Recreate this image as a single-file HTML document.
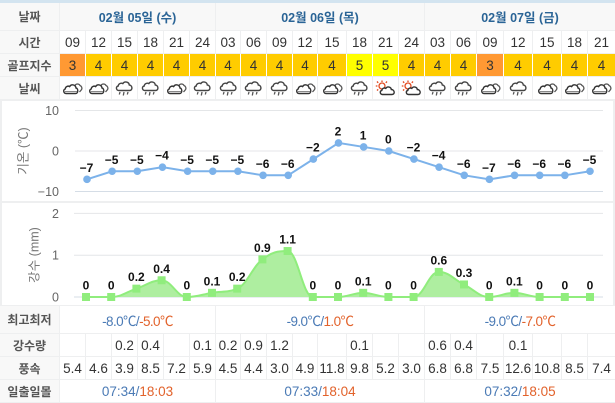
<!DOCTYPE html>
<html lang="ko">
<head>
<meta charset="utf-8">
<title>골프 날씨 예보</title>
<style>
html,body{margin:0;padding:0}
body{width:615px;height:403px;position:relative;overflow:hidden;background:#eeeff0;font-family:"Liberation Sans","Noto Sans CJK KR",sans-serif;color:#333}
.band{position:absolute;left:0;top:0;width:615px;height:3px;background:#d3e4f0}
.grid{position:absolute;left:0;width:615px;display:grid;column-gap:1px;row-gap:1px;background:#eeeff0;
grid-template-columns:59px 25px 25px 25px 25px 25px 25px 24px 25px 25px 24px 28px 25px 25px 25px 25px 25px 26px 28px 28px 25px 27px}
.grid>div{background:#fff;display:flex;align-items:center;justify-content:center;font-size:13.5px;white-space:nowrap;overflow:hidden}
.grid>.h{background:#f8f8f8;font-weight:bold;color:#555;font-size:12px}
.grid>.d{background:#f8f8f8;font-weight:bold;color:#2a6496;font-size:12.5px}
.grid>.g4{background:#ffcc00;box-shadow:1px 0 0 #fff}
.grid>.g3{background:#ff9933;box-shadow:1px 0 0 #fff}
.grid>.g5{background:#ffff00;box-shadow:1px 0 0 #fff}
.s6{grid-column:span 6}.s7{grid-column:span 7}.s8{grid-column:span 8}
.lo{color:#4a7ab5}.hi{color:#e2622b}
.mm{letter-spacing:-.6px}
#top{top:3px;grid-template-rows:27px 22px 22px 22px}
#bottom{top:306px;grid-template-rows:27px 22px 22px 22px}
.panel{position:absolute;left:2px;width:611px;background:#fff}
svg.chart{position:absolute;left:0;top:0}
svg.wx{width:21px;height:16px;display:block}
</style>
</head>
<body>
<svg width="0" height="0" style="position:absolute" aria-hidden="true">
<defs>
<symbol id="i-c" viewBox="0 0 21 16">
<path d="M13 5.500C14 3.500 17 3.600 18 5.500C19.600 6 20.400 8.200 19.600 9.500L17.500 12" fill="none" stroke="#555" stroke-width="1.300"/>
<path d="M4 13.500C1.500 13.500 .8 9.800 3.200 9C3.400 6.600 6 5.500 7.600 6.600C9.200 3.700 13.600 4.600 14 8C16.300 8.300 16.600 13.500 13.500 13.500Z" fill="#fff" stroke="#333" stroke-width="1.400"/>
<path d="M2 11.500H15" stroke="#888" stroke-width="1"/>
</symbol>
<symbol id="i-r" viewBox="0 0 21 16">
<path d="M5 10.500C2 10.500 1.500 6.500 4.200 6C4.400 3.500 7.400 2.600 8.800 3.600C10.500 .8 15 1.800 15.300 5C18.500 5.200 19 10.500 15.500 10.500Z" fill="#fff" stroke="#444" stroke-width="1.400"/>
<path d="M6 12L5.300 14.500M10 12L9.300 15.500M14 12L13.300 14.500" stroke="#555" stroke-width="1.300" fill="none"/>
</symbol>
<symbol id="i-s" viewBox="0 0 21 16">
<circle cx="7" cy="6" r="3" fill="#fff" stroke="#e2491f" stroke-width="1.300"/>
<path d="M7 .5V2M2 1.500L3.200 2.800M.8 6H2.400M12 1.500L10.800 2.800M2 10.500L3.200 9.400" stroke="#e2491f" stroke-width="1.300" fill="none"/>
<path d="M7.500 14.500C5 14.500 4.500 11 6.800 10.400C7 8.300 9.500 7.500 10.800 8.400C12.200 6 16 6.800 16.300 9.500C19.800 9.700 20.300 14.500 16.800 14.500Z" fill="#fff" stroke="#333" stroke-width="1.400"/>
</symbol>
</defs>
</svg>

<div class="band"></div>

<div class="grid" id="top">
<div class="h">날짜</div>
<div class="d s6">02월 05일 (수)</div>
<div class="d s8">02월 06일 (목)</div>
<div class="d s7">02월 07일 (금)</div>

<div class="h">시간</div>
<div>09</div><div>12</div><div>15</div><div>18</div><div>21</div><div>24</div>
<div>03</div><div>06</div><div>09</div><div>12</div><div>15</div><div>18</div><div>21</div><div>24</div>
<div>03</div><div>06</div><div>09</div><div>12</div><div>15</div><div>18</div><div>21</div>

<div class="h">골프지수</div>
<div class="g3">3</div><div class="g4">4</div><div class="g4">4</div><div class="g4">4</div><div class="g4">4</div><div class="g4">4</div>
<div class="g4">4</div><div class="g4">4</div><div class="g4">4</div><div class="g4">4</div><div class="g4">4</div><div class="g5">5</div><div class="g5">5</div><div class="g4">4</div>
<div class="g4">4</div><div class="g4">4</div><div class="g3">3</div><div class="g4">4</div><div class="g4">4</div><div class="g4">4</div><div class="g4">4</div>

<div class="h">날씨</div>
<div><svg class="wx"><use href="#i-c"/></svg></div>
<div><svg class="wx"><use href="#i-c"/></svg></div>
<div><svg class="wx"><use href="#i-r"/></svg></div>
<div><svg class="wx"><use href="#i-r"/></svg></div>
<div><svg class="wx"><use href="#i-c"/></svg></div>
<div><svg class="wx"><use href="#i-r"/></svg></div>
<div><svg class="wx"><use href="#i-r"/></svg></div>
<div><svg class="wx"><use href="#i-r"/></svg></div>
<div><svg class="wx"><use href="#i-r"/></svg></div>
<div><svg class="wx"><use href="#i-c"/></svg></div>
<div><svg class="wx"><use href="#i-c"/></svg></div>
<div><svg class="wx"><use href="#i-r"/></svg></div>
<div><svg class="wx"><use href="#i-s"/></svg></div>
<div><svg class="wx"><use href="#i-s"/></svg></div>
<div><svg class="wx"><use href="#i-r"/></svg></div>
<div><svg class="wx"><use href="#i-r"/></svg></div>
<div><svg class="wx"><use href="#i-c"/></svg></div>
<div><svg class="wx"><use href="#i-r"/></svg></div>
<div><svg class="wx"><use href="#i-c"/></svg></div>
<div><svg class="wx"><use href="#i-c"/></svg></div>
<div><svg class="wx"><use href="#i-c"/></svg></div>
</div>

<div class="panel" style="top:101px;height:100px"></div>
<div class="panel" style="top:203px;height:102px"></div>

<svg class="chart" id="chart" width="615" height="403"></svg>

<div class="grid" id="bottom">
<div class="h">최고최저</div>
<div class="s6 mm"><span class="lo">-8.0℃/</span><span class="hi">-5.0℃</span></div>
<div class="s8 mm"><span class="lo">-9.0℃/</span><span class="hi">1.0℃</span></div>
<div class="s7 mm"><span class="lo">-9.0℃/</span><span class="hi">-7.0℃</span></div>

<div class="h">강수량</div>
<div></div><div></div><div>0.2</div><div>0.4</div><div></div><div>0.1</div>
<div>0.2</div><div>0.9</div><div>1.2</div><div></div><div></div><div>0.1</div><div></div><div></div>
<div>0.6</div><div>0.4</div><div></div><div>0.1</div><div></div><div></div><div></div>

<div class="h">풍속</div>
<div>5.4</div><div>4.6</div><div>3.9</div><div>8.5</div><div>7.2</div><div>5.9</div>
<div>4.5</div><div>4.4</div><div>3.0</div><div>4.9</div><div>11.8</div><div>9.8</div><div>5.2</div><div>3.0</div>
<div>6.8</div><div>6.8</div><div>7.5</div><div>12.6</div><div>10.8</div><div>8.5</div><div>7.4</div>

<div class="h">일출일몰</div>
<div class="s6"><span class="lo">07:34/</span><span class="hi">18:03</span></div>
<div class="s8"><span class="lo">07:33/</span><span class="hi">18:04</span></div>
<div class="s7"><span class="lo">07:32/</span><span class="hi">18:05</span></div>
</div>

<script>
const temperatures = [-7,-5,-5,-4,-5,-5,-5,-6,-6,-2,2,1,0,-2,-4,-6,-7,-6,-6,-6,-5];
const precipitation = [0,0,0.2,0.4,0,0.1,0.2,0.9,1.1,0,0,0.1,0,0,0.6,0.3,0,0.1,0,0,0];
const temperatureTicks = [10,0,-10];
const precipitationTicks = [2,1,0];

const NS = 'http://www.w3.org/2000/svg';
const svg = document.getElementById('chart');

function make(tag, attrs, text) {
  const el = document.createElementNS(NS, tag);
  for (const k in attrs) el.setAttribute(k, attrs[k]);
  if (text !== undefined) el.textContent = text;
  svg.appendChild(el);
  return el;
}
function fmt(v) { return String(v).replace('-', '\u2212'); }

const xTemp = i => 87 + 25.15 * i;
const yTemp = v => 151 - 4.05 * v;
const xRain = i => 86 + 25.2 * i;
const yRain = v => 297 - 41.8 * v;

function splinePath(pts) {
  const s = 1.5, den = 2.5;
  const ctrl = pts.map((p, i) => {
    if (i === 0 || i === pts.length - 1) return {lx: p[0], ly: p[1], rx: p[0], ry: p[1]};
    const a = pts[i - 1], b = pts[i + 1];
    const lx = (s * p[0] + a[0]) / den, rx = (s * p[0] + b[0]) / den;
    let ly = (s * p[1] + a[1]) / den, ry = (s * p[1] + b[1]) / den;
    const c = ((ry - ly) * (rx - p[0])) / (rx - lx) + p[1] - ry;
    ly += c; ry += c;
    if (ly > a[1] && ly > p[1]) { ly = Math.max(a[1], p[1]); ry = 2 * p[1] - ly; }
    else if (ly < a[1] && ly < p[1]) { ly = Math.min(a[1], p[1]); ry = 2 * p[1] - ly; }
    if (ry > b[1] && ry > p[1]) { ry = Math.max(b[1], p[1]); ly = 2 * p[1] - ry; }
    else if (ry < b[1] && ry < p[1]) { ry = Math.min(b[1], p[1]); ly = 2 * p[1] - ry; }
    return {lx, ly, rx, ry};
  });
  let d = 'M' + pts[0][0] + ' ' + pts[0][1];
  for (let i = 1; i < pts.length; i++) {
    d += ' C' + ctrl[i - 1].rx + ' ' + ctrl[i - 1].ry + ' ' + ctrl[i].lx + ' ' + ctrl[i].ly + ' ' + pts[i][0] + ' ' + pts[i][1];
  }
  return d;
}

/* temperature chart */
temperatureTicks.forEach(t => {
  const g = make('line', {x1: 75, x2: 603, y1: yTemp(t), y2: yTemp(t), stroke: t === -10 ? '#d5dde6' : '#e4e6e8', 'stroke-width': 1});
  
  
  const l = make('text', {x: 59, y: yTemp(t) + 4.5, 'text-anchor': 'end', 'font-size': 12.5, fill: '#666'}, fmt(t));
  
  
});
const tTitle = make('text', {x: 24, y: 151, transform: 'rotate(-90 24 151)', 'text-anchor': 'middle', 'dominant-baseline': 'middle', 'font-size': 12.5, fill: '#777'}, '기온 (℃)');



const tLine = make('polyline', {points: temperatures.map((v, i) => xTemp(i) + ',' + yTemp(v)).join(' '), fill: 'none', stroke: '#7cb2ea', 'stroke-width': 2});


temperatures.forEach((v, i) => {
  const c = make('circle', {cx: xTemp(i), cy: yTemp(v), r: 3.8, fill: '#7cb2ea'});
  
  
  const l = make('text', {x: xTemp(i) - 0.5, y: yTemp(v) - 7.500, 'text-anchor': 'middle', 'font-size': 12, 'font-weight': 'bold', fill: '#111'}, fmt(v));
  
  
});

/* precipitation chart */
precipitationTicks.forEach(t => {
  const g = make('line', {x1: 74, x2: 603, y1: yRain(t), y2: yRain(t), stroke: t === 0 ? '#d5dde6' : '#e4e6e8', 'stroke-width': 1});
  
  
  const l = make('text', {x: 59, y: yRain(t) + 4.5, 'text-anchor': 'end', 'font-size': 12.5, fill: '#666'}, fmt(t));
  
  
});
const rTitle = make('text', {x: 35, y: 255, transform: 'rotate(-90 35 255)', 'text-anchor': 'middle', 'dominant-baseline': 'middle', 'font-size': 12.5, fill: '#777'}, '강수 (mm)');



const rPts = precipitation.map((v, i) => [xRain(i), yRain(v)]);
const rLinePath = splinePath(rPts);
const rArea = make('path', {d: rLinePath + ' L' + xRain(precipitation.length - 1) + ' ' + yRain(0) + ' L' + xRain(0) + ' ' + yRain(0) + ' Z', fill: '#aeeea0'});


const rLine = make('path', {d: rLinePath, fill: 'none', stroke: '#90ed7d', 'stroke-width': 2});


precipitation.forEach((v, i) => {
  const m = make('rect', {x: xRain(i) - 4, y: yRain(v) - 4, width: 8, height: 8, fill: '#90ed7d'});
  
  
  const l = make('text', {x: xRain(i), y: yRain(v) - 7.500, 'text-anchor': 'middle', 'font-size': 12, 'font-weight': 'bold', fill: '#111'}, fmt(v));
  
  
});
</script>
</body>
</html>
